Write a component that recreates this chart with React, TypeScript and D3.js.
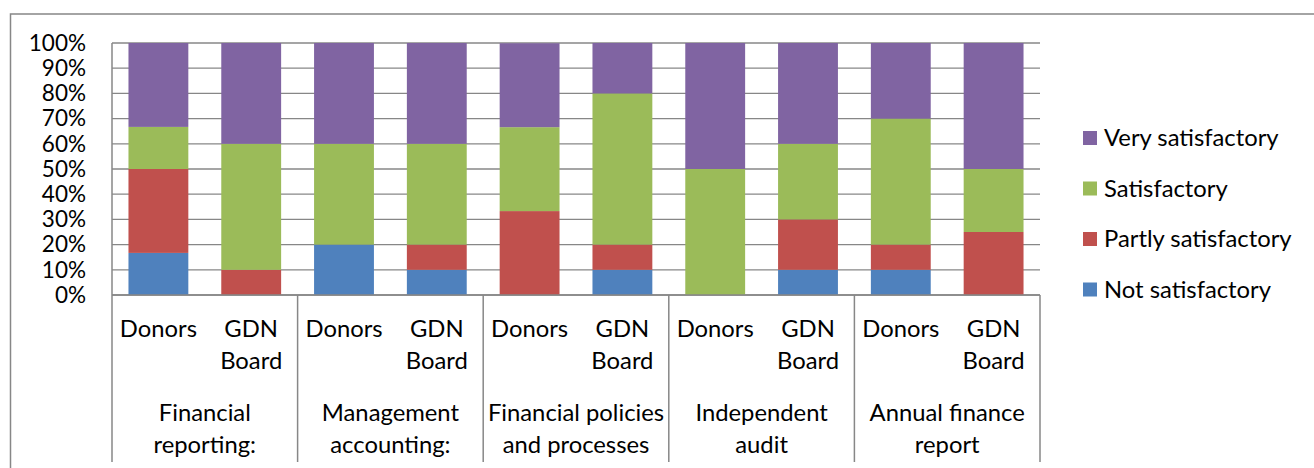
import React from 'react';
import * as d3 from 'd3';

// --- data ---
const groups = [
  ['Financial', 'reporting:'],
  ['Management', 'accounting:'],
  ['Financial policies', 'and processes'],
  ['Independent', 'audit'],
  ['Annual finance', 'report'],
];
const respondents = ['Donors', 'GDN Board'];
const seriesNames = ['Not satisfactory', 'Partly satisfactory', 'Satisfactory', 'Very satisfactory'];
const seriesColors = ['#4F81BD', '#C0504D', '#9BBB59', '#8064A2'];

// one row per bar (group x respondent), shares in %
const notSatisfactory = [16.7, 0, 20, 10, 0, 10, 0, 10, 10, 0];
const partlySatisfactory = [33.3, 10, 0, 10, 33.3, 10, 0, 20, 10, 25];
const satisfactory = [16.7, 50, 40, 40, 33.3, 60, 50, 30, 50, 25];
const verySatisfactory = [33.3, 40, 40, 40, 33.3, 20, 50, 40, 30, 50];

const yTicks = [0, 10, 20, 30, 40, 50, 60, 70, 80, 90, 100];

const W = 1314;
const H = 468;
const FONT = 'Lato, Carlito, Calibri, sans-serif';
const TEXT_SIZE = 23.8;
const TICK_SIZE = 22.5;

export default function App() {
  const plot = { left: 112, right: 1040, top: 43, bottom: 295 };
  const catBottom = 462;

  const bars = d3.range(groups.length * respondents.length);
  const x = d3.scaleBand<number>()
    .domain(bars)
    .range([plot.left, plot.right])
    .paddingInner(0.355)
    .paddingOuter(0.1775);
  const y = d3.scaleLinear().domain([0, 100]).range([plot.bottom, plot.top]);

  const rows = bars.map(i => ({
    i,
    'Not satisfactory': notSatisfactory[i],
    'Partly satisfactory': partlySatisfactory[i],
    'Satisfactory': satisfactory[i],
    'Very satisfactory': verySatisfactory[i],
  }));
  const stacked = d3.stack<any>().keys(seriesNames)(rows);

  const groupW = (plot.right - plot.left) / groups.length;
  const dividers = d3.range(groups.length + 1).map(g => plot.left + g * groupW);
  const grey = '#878787';

  const legendOrder = [3, 2, 1, 0];

  return (
    <svg width={W} height={H} style={{ position: 'absolute', left: 0, top: 0, background: '#fff' }}>
      {/* outer chart border */}
      <rect x={10.5} y={14} width={W + 20} height={H + 20} fill="#fff" stroke={grey} strokeWidth={1.5} />

      {/* gridlines */}
      {yTicks.map(t => (
        <line key={t} x1={plot.left} x2={plot.right} y1={y(t)} y2={y(t)} stroke={grey} strokeWidth={1.3} />
      ))}

      {/* y tick labels */}
      {yTicks.map(t => (
        <text key={t} x={86} y={y(t)} dy="0.35em" textAnchor="end" fontFamily={FONT} fontSize={TICK_SIZE} fill="#000">
          {t}%
        </text>
      ))}

      {/* stacked bars */}
      {stacked.map((s, si) => (
        <g key={s.key} fill={seriesColors[si]}>
          {s.map((d, bi) => (
            d[1] - d[0] > 0 ? (
              <rect key={bi} x={x(bi)} width={x.bandwidth()} y={y(d[1])} height={y(d[0]) - y(d[1])} />
            ) : null
          ))}
        </g>
      ))}

      {/* category axis */}
      <line x1={plot.left} x2={plot.left} y1={plot.top} y2={catBottom} stroke={grey} strokeWidth={1.5} />
      <line x1={plot.left} x2={plot.right} y1={plot.bottom} y2={plot.bottom} stroke={grey} strokeWidth={1.5} />
      {dividers.slice(1).map((dx, k) => (
        <line key={k} x1={dx} x2={dx} y1={plot.bottom} y2={catBottom} stroke={grey} strokeWidth={1.5} />
      ))}

      {/* respondent labels */}
      {bars.map(i => {
        const cx = (x(i) as number) + x.bandwidth() / 2;
        const lines = respondents[i % 2].split(' ');
        return lines.map((ln, li) => (
          <text key={`${i}-${li}`} x={cx} y={329 + li * 31.5} dy="0.35em" textAnchor="middle" fontFamily={FONT} fontSize={TEXT_SIZE} fill="#000">
            {ln}
          </text>
        ));
      })}

      {/* group labels */}
      {groups.map((g, gi) => {
        const cx = plot.left + (gi + 0.5) * groupW;
        return g.map((ln, li) => (
          <text key={`${gi}-${li}`} x={cx} y={413 + li * 32} dy="0.35em" textAnchor="middle" fontFamily={FONT} fontSize={TEXT_SIZE} fill="#000">
            {ln}
          </text>
        ));
      })}

      {/* legend */}
      {legendOrder.map((si, k) => {
        const ly = 138 + k * 50.5;
        return (
          <g key={si}>
            <rect x={1083} y={ly - 7} width={14} height={14} fill={seriesColors[si]} />
            <text x={1104} y={ly} dy="0.35em" fontFamily={FONT} fontSize={TEXT_SIZE} fill="#000">
              {seriesNames[si]}
            </text>
          </g>
        );
      })}
    </svg>
  );
}
